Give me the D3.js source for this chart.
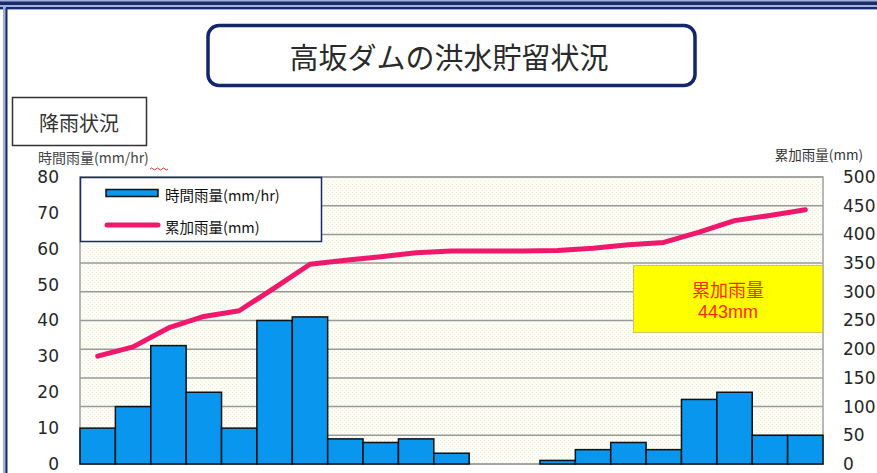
<!DOCTYPE html>
<html><head><meta charset="utf-8">
<script src="https://cdn.jsdelivr.net/npm/d3@7/dist/d3.min.js"></script>
<style>
html,body{margin:0;padding:0;background:#fff;}
svg{display:block;}
</style></head>
<body>
<svg id="chart" width="877" height="473"></svg>
<script>
// ---- data ----
const hours = ["1","2","3","4","5","6","7","8","9","10","11","12","13","14","15","16","17","18","19","20","21"];
const hourlyRain = [10,16,33,20,10,40,41,7,6,7,3,0,0,1,4,6,4,18,20,8,8];
const cumulativeRain = [188,204,237,257,267,307,348,355,361,368,371,371,371,372,376,382,386,404,424,433,443];
const leftTicks = [0,10,20,30,40,50,60,70,80];
const rightTicks = [0,50,100,150,200,250,300,350,400,450,500];
const titleText = "高坂ダムの洪水貯留状況";
const sectionText = "降雨状況";
const leftAxisTitle = "時間雨量(mm/hr)";
const rightAxisTitle = "累加雨量(mm)";
const seriesNames = ["時間雨量(mm/hr)", "累加雨量(mm)"];
const totalLabel = ["累加雨量", "443mm"];

const svg = d3.select("#chart");
const M = {left:80, right:823, top:177, bottom:464};
const numFont = "'DejaVu Sans', Verdana, sans-serif";
const jpFont = "'Noto Sans CJK JP', sans-serif";

// frame
svg.append("rect").attr("x",0).attr("y",0).attr("width",877).attr("height",10).attr("fill","#9fb0de");
svg.append("rect").attr("x",0).attr("y",1.5).attr("width",877).attr("height",3.5).attr("fill","#1c2a66");
svg.append("rect").attr("x",0).attr("y",7).attr("width",877).attr("height",2).attr("fill","#1c2a66");
svg.append("rect").attr("x",3).attr("y",7).attr("width",3).attr("height",466).attr("fill","#9fb0de");
svg.append("rect").attr("x",5.5).attr("y",8).attr("width",2).attr("height",465).attr("fill","#1c2a66");

// title box
svg.append("rect").attr("x",208).attr("y",25.5).attr("width",487).attr("height",60)
  .attr("rx",11).attr("fill","#fff").attr("stroke","#13266a").attr("stroke-width",3.5);
svg.append("text").attr("x",449).attr("y",56).attr("text-anchor","middle").attr("dominant-baseline","central")
  .attr("font-family",jpFont).attr("font-size",29).attr("font-weight",400).attr("fill","#2a2a2a").text(titleText);

// section box
svg.append("rect").attr("x",12.5).attr("y",97.5).attr("width",134).attr("height",48)
  .attr("fill","#fff").attr("stroke","#333").attr("stroke-width",1.5);
svg.append("text").attr("x",79).attr("y",122).attr("text-anchor","middle").attr("dominant-baseline","central")
  .attr("font-family",jpFont).attr("font-size",20).attr("fill","#333").text(sectionText);

// axis titles
svg.append("text").attr("x",38).attr("y",157).attr("dominant-baseline","central")
  .attr("font-family",jpFont).attr("font-size",14).attr("fill","#444").text(leftAxisTitle);
svg.append("path").attr("d","M150,169 q1.5,-2 3,0 t3,0 t3,0 t3,0 t3,0 t3,0")
  .attr("fill","none").attr("stroke","#e03030").attr("stroke-width",1);
svg.append("text").attr("x",863).attr("y",154).attr("text-anchor","end").attr("dominant-baseline","central")
  .attr("font-family",jpFont).attr("font-size",13.5).attr("fill","#333").text(rightAxisTitle);

// scales
const x = d3.scaleBand().domain(hours).range([M.left, M.right]).padding(0);
const yL = d3.scaleLinear().domain([0,80]).range([M.bottom, M.top]);
const yR = d3.scaleLinear().domain([0,500]).range([M.bottom, M.top]);

// plot background with dotted pattern
const defs = svg.append("defs");
const pat = defs.append("pattern").attr("id","dots").attr("width",4).attr("height",4).attr("patternUnits","userSpaceOnUse");
pat.append("rect").attr("width",4).attr("height",4).attr("fill","#fcfdf4");
pat.append("rect").attr("x",0).attr("y",0).attr("width",1).attr("height",1).attr("fill","#e9eed6");
pat.append("rect").attr("x",2).attr("y",2).attr("width",1).attr("height",1).attr("fill","#e9eed6");
svg.append("rect").attr("x",M.left).attr("y",M.top).attr("width",M.right-M.left).attr("height",M.bottom-M.top)
  .attr("fill","url(#dots)");

// gridlines
svg.append("g").selectAll("line").data(rightTicks).join("line")
  .attr("x1",M.left).attr("x2",M.right).attr("y1",d=>yR(d)).attr("y2",d=>yR(d))
  .attr("stroke","#9a9a9a").attr("stroke-width",1.5);
svg.append("rect").attr("x",M.left).attr("y",M.top).attr("width",M.right-M.left).attr("height",M.bottom-M.top)
  .attr("fill","none").attr("stroke","#a0a0a0").attr("stroke-width",1.5);

// bars
svg.append("g").selectAll("rect").data(hourlyRain.map((v,i)=>({h:hours[i],v}))).join("rect")
  .filter(d=>d.v>0)
  .attr("x",d=>x(d.h)).attr("width",x.bandwidth())
  .attr("y",d=>yL(d.v)).attr("height",d=>yL(0)-yL(d.v))
  .attr("fill","#0896ee").attr("stroke","#111").attr("stroke-width",1.5);

// line
const line = d3.line().x((d,i)=>x(hours[i])+x.bandwidth()/2).y(d=>yR(d));
svg.append("path").datum(cumulativeRain).attr("d",line)
  .attr("fill","none").attr("stroke","#f0186c").attr("stroke-width",5)
  .attr("stroke-linejoin","round").attr("stroke-linecap","round");

// axes
const axL = svg.append("g").attr("transform",`translate(59,0)`)
  .call(d3.axisLeft(yL).tickValues(leftTicks).tickSize(0).tickPadding(0));
const axR = svg.append("g").attr("transform",`translate(843,0)`)
  .call(d3.axisRight(yR).tickValues(rightTicks).tickSize(0).tickPadding(0));
[axL,axR].forEach(a=>{
  a.select(".domain").remove();
  a.selectAll("text").attr("font-family",numFont).attr("font-size",17).attr("fill","#262626");
});

// legend
const lg = svg.append("g");
lg.append("rect").attr("x",80.5).attr("y",177.5).attr("width",241).attr("height",64)
  .attr("fill","#fff").attr("stroke","#1c2a66").attr("stroke-width",1.5);
lg.append("rect").attr("x",106).attr("y",189.5).attr("width",52).attr("height",7)
  .attr("fill","#0896ee").attr("stroke","#111").attr("stroke-width",1.5);
lg.append("line").attr("x1",107).attr("x2",158).attr("y1",225).attr("y2",225)
  .attr("stroke","#f0186c").attr("stroke-width",5).attr("stroke-linecap","round");
lg.selectAll("text.lt").data(seriesNames).join("text").attr("class","lt")
  .attr("x",165).attr("y",(d,i)=>i===0?194:226).attr("dominant-baseline","central")
  .attr("font-family",jpFont).attr("font-size",14.5).attr("fill","#111").text(d=>d);

// total annotation
svg.append("rect").attr("x",633.5).attr("y",265.5).attr("width",189).attr("height",67)
  .attr("fill","#ffff00").attr("stroke","#d8c060").attr("stroke-width",1);
svg.selectAll("text.tot").data(totalLabel).join("text").attr("class","tot")
  .attr("x",728).attr("y",(d,i)=>i===0?289:312).attr("text-anchor","middle").attr("dominant-baseline","central")
  .attr("font-family",(d,i)=>i===0?jpFont:"'Liberation Sans', Arial, sans-serif")
  .attr("font-size",18).attr("fill","#ff2a00").text(d=>d);
</script>
</body></html>
